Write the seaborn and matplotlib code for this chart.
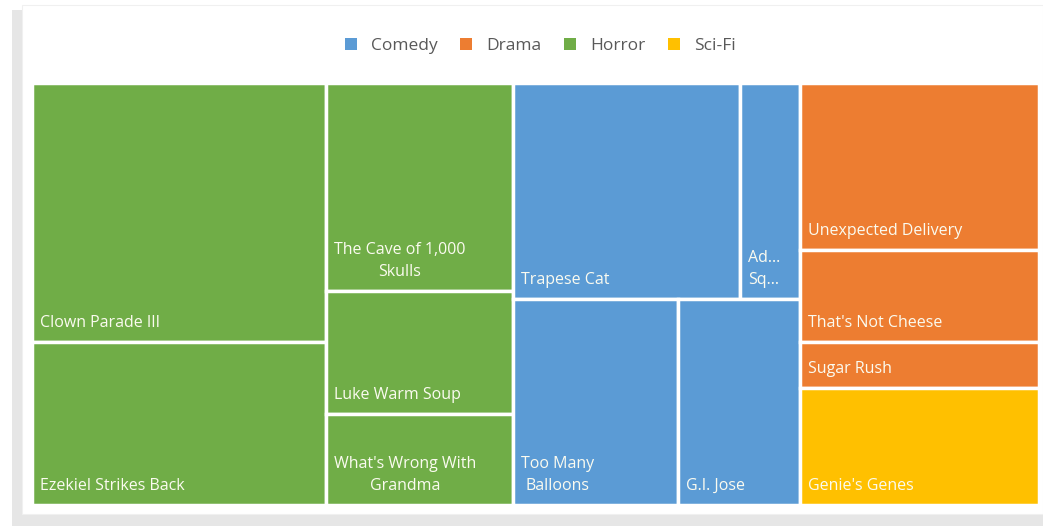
import matplotlib
matplotlib.use("Agg")
import matplotlib.pyplot as plt
from matplotlib.patches import Rectangle, Patch
import pandas as pd
import seaborn as sns

# Genre palette (Office-style colours)
genres = ["Comedy", "Drama", "Horror", "Sci-Fi"]
genre_colors = ["#5B9BD5", "#ED7D31", "#70AD47", "#FFC000"]

# Ticket sales per film, grouped by genre
horror_titles = ["Clown Parade III", "Ezekiel Strikes Back", "The Cave of 1,000\nSkulls",
                 "Luke Warm Soup", "What's Wrong With\nGrandma"]
horror_sales = [76, 48, 39, 23, 17]
comedy_titles = ["Trapese Cat", "Ad...\nSq...", "Too Many\nBalloons", "G.I. Jose"]
comedy_sales = [49, 13, 34, 25]
drama_titles = ["Unexpected Delivery", "That's Not Cheese", "Sugar Rush"]
drama_sales = [40, 22, 11]
scifi_titles = ["Genie's Genes"]
scifi_sales = [28]

df = pd.DataFrame({
    "title": horror_titles + comedy_titles + drama_titles + scifi_titles,
    "genre": (["Horror"] * len(horror_titles) + ["Comedy"] * len(comedy_titles)
              + ["Drama"] * len(drama_titles) + ["Sci-Fi"] * len(scifi_titles)),
    "sales": horror_sales + comedy_sales + drama_sales + scifi_sales,
})

# Split tree: "row" places children side by side, "col" stacks them
tree = ("row", [
    ("row", [("col", [0, 1]), ("col", [2, 3, 4])]),
    ("col", [("row", [5, 6]), ("row", [7, 8])]),
    ("col", [9, 10, 11, 12]),
])


def total(node):
    if isinstance(node, int):
        return df["sales"].iloc[node]
    return sum(total(k) for k in node[1])


def place(node, x, y, w, h, out):
    if isinstance(node, int):
        out[node] = (x, y, w, h)
        return
    kind, kids = node
    t = total(node)
    off = 0.0
    for k in kids:
        f = total(k) / t
        if kind == "row":
            place(k, x + off * w, y, f * w, h, out)
        else:
            place(k, x, y + off * h, w, f * h, out)
        off += f


cells = {}
place(tree, 0.0, 0.0, 1.0, 1.0, cells)

sns.set_theme(style="white")
plt.rcParams["font.family"] = ["Open Sans", "DejaVu Sans"]
palette = dict(zip(genres, sns.color_palette(genre_colors)))

W, H = 1043, 530
fig = plt.figure(figsize=(W / 100, H / 100), dpi=100, facecolor="white")

# card with a soft shadow
fig.add_artist(Rectangle((12 / W, 1 - 526 / H), (W - 12) / W, 516 / H,
                         transform=fig.transFigure, facecolor="#e6e6e6", edgecolor="none", zorder=0))
fig.add_artist(Rectangle((22 / W, 1 - 514 / H), (W - 22) / W, 509 / H,
                         transform=fig.transFigure, facecolor="white", edgecolor="#f0f0f0",
                         linewidth=0.8, zorder=0))

ax = fig.add_axes([32 / W, 25 / H, 1007 / W, 422 / H])
ax.set_xlim(0, 1)
ax.set_ylim(1, 0)
ax.axis("off")

for i, row in df.iterrows():
    x, y, w, h = cells[i]
    ax.add_patch(Rectangle((x, y), w, h, facecolor=palette[row["genre"]],
                           edgecolor="white", linewidth=2.5))
    ax.annotate(row["title"], xy=(x, y + h), xytext=(8, 11), textcoords="offset pixels",
                ha="left", va="bottom", multialignment="center", linespacing=1.5,
                color="#fbfbf0", fontsize=11.5)

handles = [Patch(facecolor=palette[g], edgecolor="none", label=g) for g in genres]
fig.legend(handles=handles, loc="center", bbox_to_anchor=(540 / W, 1 - 46 / H), ncol=4,
           frameon=False, handlelength=0.7, handleheight=0.7, handletextpad=0.8,
           columnspacing=1.3, fontsize=12.5, labelcolor="#595959")

fig.savefig("out.png", dpi=100, facecolor="white")
